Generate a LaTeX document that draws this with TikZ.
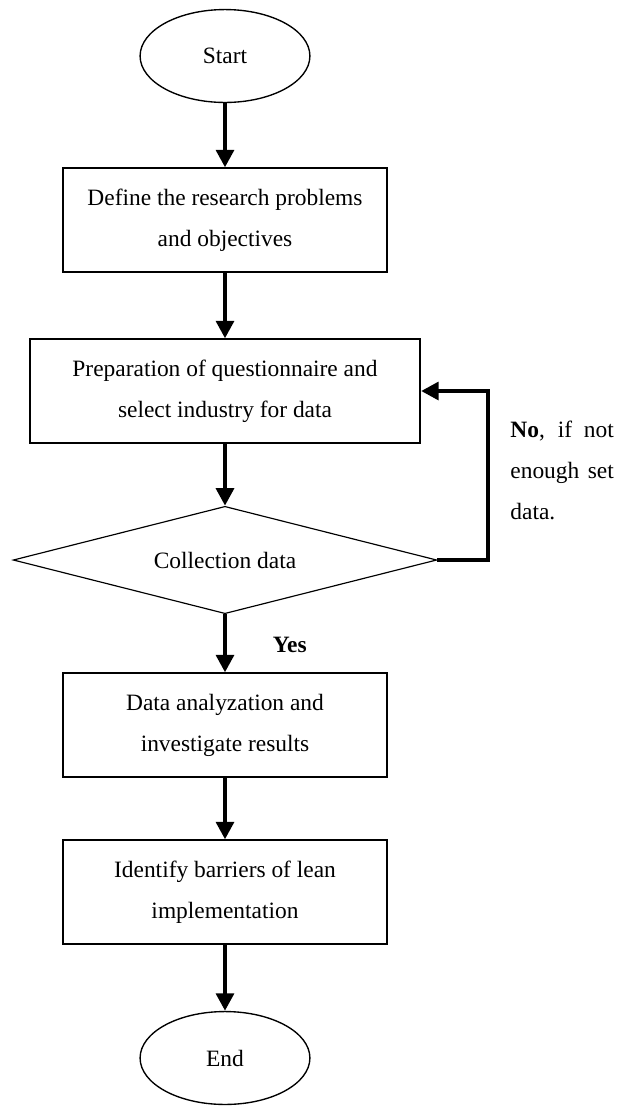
\documentclass[tikz,border=0pt]{standalone}
\usepackage{fontspec}
\setmainfont{Liberation Serif}
\usetikzlibrary{arrows.meta,shapes.geometric,positioning}
\tikzset {
  >={Triangle[length=9pt,width=9pt]},
  every node/.style={font=\fontsize{12pt}{21pt}\selectfont},
  terminal/.style={draw,ellipse,line width=0.7pt,minimum width=87pt,minimum height=47.6pt,inner sep=0pt},
  process/.style={draw,rectangle,line width=0.9pt,minimum width=166pt,minimum height=53pt,align=center,inner sep=0pt},
  decision/.style={draw,diamond,shape aspect=4,line width=0.6pt,minimum width=217pt,minimum height=55pt,inner sep=0pt},
  flow/.style={->,line width=2.5pt},
}

\begin{document}
\begin{tikzpicture}[x=0.018cm,y=-0.018cm]
          \useasboundingbox (0,0) rectangle (617,1107);
          \node[terminal] (start) at (225,56) {Start};
          \node[process] (define) at (225,220) {Define the research problems\\and objectives};
          \node[process,minimum width=200pt] (prep) at (225,391) {Preparation of questionnaire and\\select industry for data};
          \node[decision] (collect) at (225,560) {Collection data};
          \node[process] (analyse) at (225,725) {Data analyzation and\\investigate results};
          \node[process] (barrier) at (225,892) {Identify barriers of lean\\implementation};
          \node[terminal] (end) at (225,1058) {End};
          \coordinate (loop) at (488,391);
          \draw[flow] (start) -- (define);
          \draw[flow] (define) -- (prep);
          \draw[flow] (prep) -- (collect);
          \draw[flow] (collect) -- (analyse);
          \draw[flow] (analyse) -- (barrier);
          \draw[flow] (barrier) -- (end);
          \draw[flow] (collect.east) -| (loop) -- (prep.east);
          \node[anchor=west,font=\fontsize{12pt}{21pt}\selectfont\bfseries] (yes) at (266,645) {Yes};
          \node[anchor=west,align=left,inner sep=0pt] (nolabel) at (510,470)
            {\makebox[53pt][s]{\textbf{No}, if not}\\\makebox[53pt][s]{enough set}\\data.};
        \end{tikzpicture}
\end{document}
